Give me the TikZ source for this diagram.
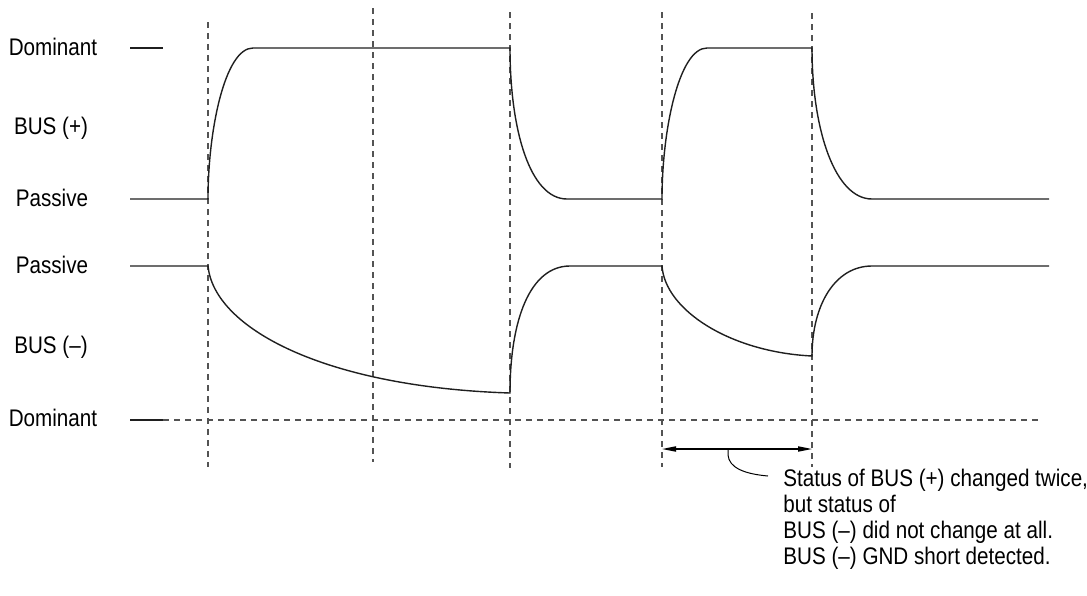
\documentclass[tikz,border=0pt]{standalone}
\usepackage{fontspec}
\setmainfont{Liberation Sans}[FakeStretch=0.86]
\usetikzlibrary{arrows.meta}

\begin{document}
\begin{tikzpicture}[x=0.5pt,y=-0.5pt,>={Triangle[length=7pt,width=2.6pt]},
  lbl/.style={anchor=base,inner sep=0pt,font=\fontsize{12}{13}\selectfont},
  sig/.style={line width=0.7pt,black!88},
  tline/.style={gray!65!black,line width=0.55pt,dash pattern=on 3pt off 2.5pt}]
  \useasboundingbox (0,0) rectangle (1087,595);
  % time marks
  \foreach \x/\a/\b in {208/22/467,373/8/462,510/12/468,662/12/467,812/13/467}
    \draw[tline] (\x,\a) -- (\x,\b);
  % level labels
  \node[lbl] (domp) at (53,55) {Dominant};
  \node[lbl] (busp) at (51,134) {BUS (+)};
  \node[lbl] (pasp) at (52,206) {Passive};
  \node[lbl] (pasm) at (52,273) {Passive};
  \node[lbl] (busm) at (51,353) {BUS (–)};
  \node[lbl] (domm) at (53,426) {Dominant};
  \draw[sig] (130,48) -- (163,48);
  \draw[sig] (130,420) -- (163,420);
  \draw[tline] (163,420) -- (1040,420);
  % BUS (+)
  \draw[sig] (130,199) -- (208,199) .. controls (208,130) and (225,48) .. (253,48) -- (510,48)
    .. controls (510,130) and (530,199) .. (567,199) -- (662,199)
    .. controls (662,130) and (679,48) .. (707,48) -- (812,48)
    .. controls (812,130) and (835,199) .. (872,199) -- (1049,199);
  % BUS (-)
  \draw[sig] (130,266) -- (208,266) .. controls (214,328) and (324,387) .. (510,393)
    .. controls (510,320) and (530,266) .. (570,266) -- (662,266)
    .. controls (665,310) and (730,352) .. (812,356)
    .. controls (812,305) and (835,266) .. (872,266) -- (1049,266);
  % span + note
  \coordinate (s1) at (662,449);
  \coordinate (s2) at (812,449);
  \coordinate (ld) at (728,449);
  \coordinate (le) at (768,476);
  \draw[<->,line width=0.6pt] (s1) -- (s2);
  \draw[line width=0.5pt] (ld) -- ++(0,6) .. controls (729,468) and (745,474) .. (le);
  \node[lbl,anchor=north west,align=left] (note) at (783,469)
    {Status of BUS (+) changed twice,\\but status of\\BUS (–) did not change at all.\\BUS (–) GND short detected.};
\end{tikzpicture}
\end{document}
